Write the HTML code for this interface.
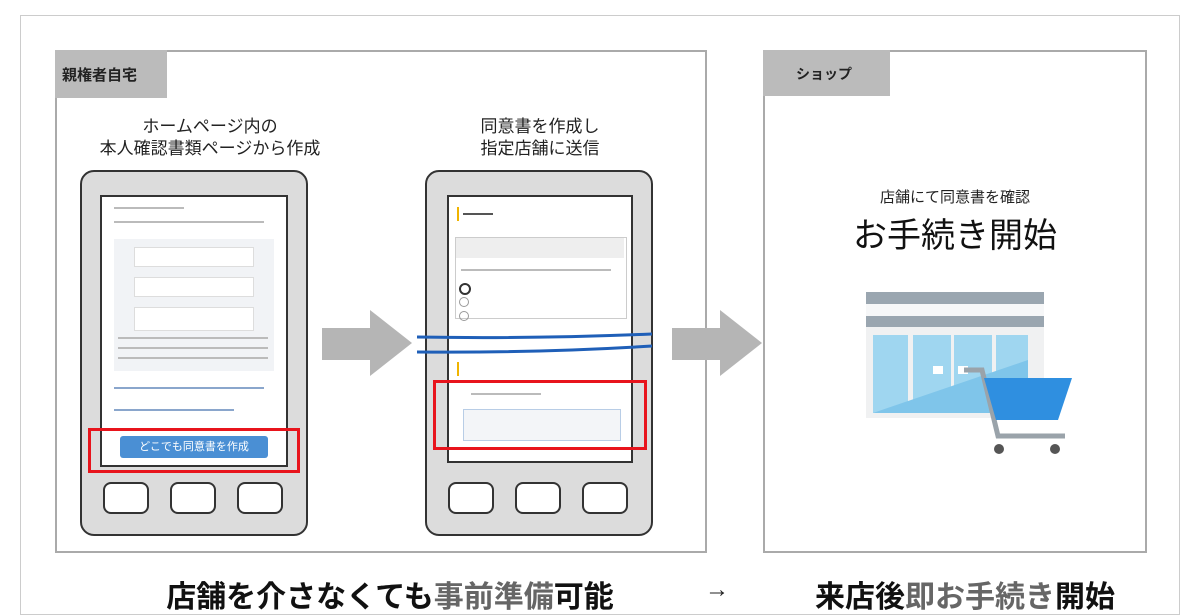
<!DOCTYPE html><html><head><meta charset="utf-8"><style>
body{margin:0;width:1200px;height:600px;overflow:hidden;background:#fff;font-family:"Liberation Sans","Noto Sans CJK JP",sans-serif;position:relative}
.a{position:absolute}
.t{font-weight:bold;color:#222;text-align:center}
.ph{position:absolute;background:#dcdcdc;border:2.5px solid #333;border-radius:14px;box-sizing:border-box}
.scr{position:absolute;background:#fff;border:2.5px solid #333;box-sizing:border-box;overflow:hidden}
.btn{position:absolute;width:46px;height:32px;border:2.5px solid #333;border-radius:8px;background:#fff;box-sizing:border-box}
.ln{position:absolute;height:2px;background:#bbb}
.red{position:absolute;border:3px solid #e8141c;box-sizing:border-box}
</style></head><body>
<div class="a" style="left:20px;top:15px;width:1160px;height:600px;border:1px solid #ccc;box-sizing:border-box"></div>
<div class="a" style="left:55px;top:50px;width:652px;height:503px;border:2px solid #aaa;box-sizing:border-box"></div>
<div class="a" style="left:55px;top:50px;width:112px;height:48px;background:#bbb"></div>
<div class="a t" style="left:62px;top:64px;font-size:15px">親権者自宅</div>
<div class="a" style="left:763px;top:50px;width:384px;height:503px;border:2px solid #aaa;box-sizing:border-box"></div>
<div class="a" style="left:763px;top:50px;width:127px;height:46px;background:#bbb"></div>
<div class="a t" style="left:796px;top:64px;font-size:14px">ショップ</div>

<div class="a t" style="left:60px;top:116px;width:300px;font-size:17px;font-weight:normal;line-height:22px">ホームページ内の<br>本人確認書類ページから作成</div>
<div class="a t" style="left:430px;top:116px;width:220px;font-size:17px;font-weight:normal;line-height:22px">同意書を作成し<br>指定店舗に送信</div>

<div class="ph" style="left:80px;top:170px;width:228px;height:366px"></div>
<div class="scr" style="left:100px;top:195px;width:188px;height:272px">
<div class="ln" style="left:12px;top:10px;width:70px"></div>
<div class="ln" style="left:12px;top:24px;width:150px"></div>
<div class="a" style="left:12px;top:42px;width:160px;height:132px;background:#f1f3f6"></div>
<div class="a" style="left:32px;top:50px;width:118px;height:18px;background:#fff;border:1px solid #ddd"></div>
<div class="a" style="left:32px;top:80px;width:118px;height:18px;background:#fff;border:1px solid #ddd"></div>
<div class="a" style="left:32px;top:110px;width:118px;height:22px;background:#fff;border:1px solid #ddd"></div>
<div class="ln" style="left:16px;top:140px;width:150px"></div>
<div class="ln" style="left:16px;top:150px;width:150px"></div>
<div class="ln" style="left:16px;top:160px;width:150px"></div>
<div class="ln" style="left:12px;top:190px;width:150px;background:#8aa6cc"></div>
<div class="ln" style="left:12px;top:212px;width:120px;background:#8aa6cc"></div>
<div class="a" style="left:18px;top:239px;width:148px;height:22px;background:#4a8fd4;border-radius:3px;color:#fff;font-size:11px;text-align:center;line-height:22px">どこでも同意書を作成</div>
</div>
<div class="red" style="left:88px;top:428px;width:212px;height:45px"></div>
<div class="btn" style="left:103px;top:482px"></div><div class="btn" style="left:170px;top:482px"></div><div class="btn" style="left:237px;top:482px"></div>

<div class="ph" style="left:425px;top:170px;width:228px;height:366px"></div>
<div class="scr" style="left:447px;top:195px;width:186px;height:268px">
<div class="a" style="left:8px;top:10px;width:2px;height:14px;background:#f0b400"></div>
<div class="ln" style="left:14px;top:16px;width:30px;background:#555"></div>
<div class="a" style="left:6px;top:40px;width:170px;height:80px;border:1px solid #ccc;background:#fff"></div>
<div class="a" style="left:7px;top:41px;width:168px;height:20px;background:#eee"></div>
<div class="ln" style="left:12px;top:72px;width:150px"></div>
<div class="a" style="left:10px;top:86px;width:8px;height:8px;border:2px solid #333;border-radius:50%"></div>
<div class="a" style="left:10px;top:100px;width:8px;height:8px;border:1px solid #999;border-radius:50%"></div>
<div class="a" style="left:10px;top:114px;width:8px;height:8px;border:1px solid #999;border-radius:50%"></div>
<div class="a" style="left:8px;top:165px;width:2px;height:14px;background:#f0b400"></div>
<div class="ln" style="left:22px;top:196px;width:70px"></div>
<div class="a" style="left:14px;top:212px;width:156px;height:30px;border:1px solid #b8cde6;background:#f3f5f8"></div>
</div>
<svg class="a" style="left:412px;top:325px" width="252" height="34"><path d="M5 12 Q120 14 240 9" stroke="#1f5fb8" stroke-width="3" fill="none"/><path d="M5 27 Q130 28 240 21" stroke="#1f5fb8" stroke-width="3" fill="none"/></svg>
<div class="red" style="left:433px;top:380px;width:214px;height:70px"></div>
<div class="btn" style="left:448px;top:482px"></div><div class="btn" style="left:515px;top:482px"></div><div class="btn" style="left:582px;top:482px"></div>

<svg class="a" style="left:0;top:0" width="1200" height="600">
<polygon points="322,328 370,328 370,310 412,343 370,376 370,360 322,360" fill="#b5b5b5"/>
<polygon points="672,328 720,328 720,310 762,343 720,376 720,360 672,360" fill="#b5b5b5"/>
<rect x="866" y="292" width="178" height="12" fill="#9aa6b0"/>
<rect x="866" y="304" width="178" height="12" fill="#f6f7f8"/>
<rect x="866" y="316" width="178" height="11" fill="#9aa6b0"/>
<rect x="866" y="327" width="178" height="91" fill="#f0f1f2"/>
<rect x="873" y="335" width="35" height="78" fill="#9fd6f0"/>
<rect x="913" y="335" width="38" height="78" fill="#9fd6f0"/>
<rect x="954" y="335" width="38" height="78" fill="#9fd6f0"/>
<rect x="996" y="335" width="32" height="78" fill="#9fd6f0"/>
<polygon points="873,413 1028,360 1028,413" fill="#7fc5ea"/>
<rect x="933" y="366" width="10" height="8" fill="#fff"/><rect x="958" y="366" width="10" height="8" fill="#fff"/>
<polyline points="964,370 982,370 998,436 1065,436" stroke="#9aa3aa" stroke-width="5" fill="none"/>
<polygon points="984,378 1072,378 1064,402 1058,420 996,420" fill="#2f8fe0"/>
<circle cx="999" cy="449" r="5" fill="#555"/><circle cx="1055" cy="449" r="5" fill="#555"/>
</svg>
<div class="a" style="left:763px;top:186px;width:384px;text-align:center;font-size:15px;color:#222">店舗にて同意書を確認</div>
<div class="a" style="left:763px;top:208px;width:384px;text-align:center;font-size:34px;color:#111">お手続き開始</div>

<div class="a t" style="left:130px;top:572px;width:520px;font-size:30px;color:#111;white-space:nowrap">店舗を介さなくても<span style="color:#666">事前準備</span>可能</div>
<div class="a t" style="left:705px;top:576px;font-size:24px;font-weight:normal">→</div>
<div class="a t" style="left:790px;top:572px;width:350px;font-size:30px;color:#111;white-space:nowrap">来店後<span style="color:#666">即お手続き</span>開始</div>
</body></html>
